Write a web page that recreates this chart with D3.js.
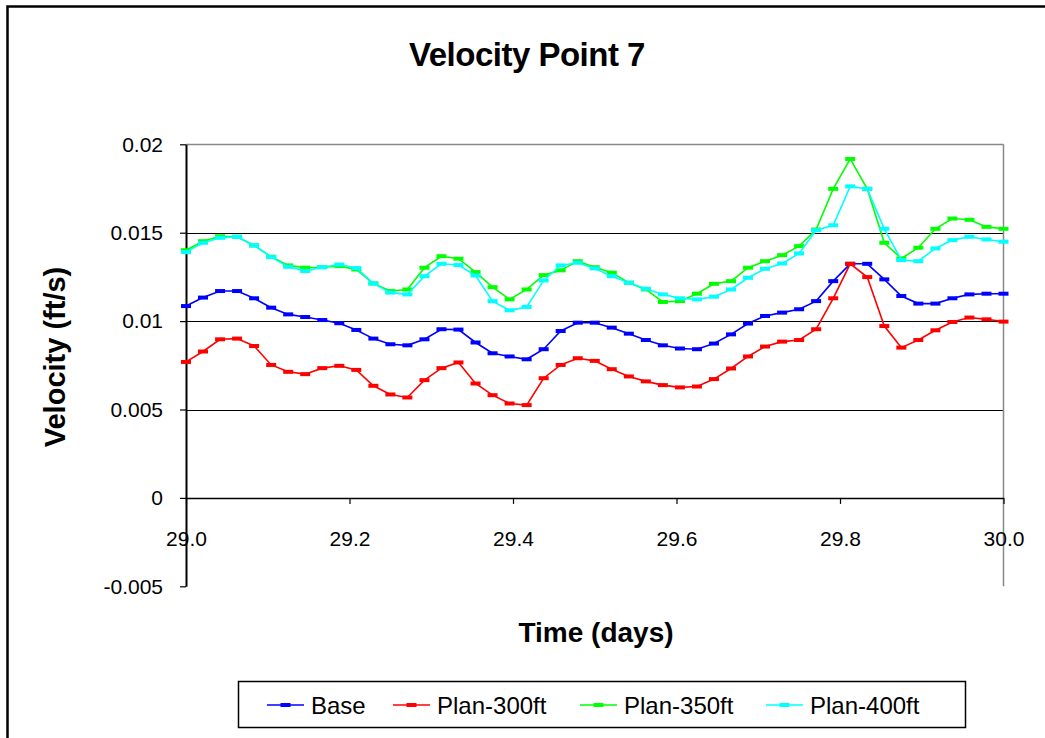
<!DOCTYPE html>
<html><head><meta charset="utf-8">
<script src="https://cdn.jsdelivr.net/npm/d3@7"></script>
<style>body{margin:0;background:#fff}svg{display:block}text{font-family:"Liberation Sans",Arial,sans-serif}</style>
</head><body><svg id="c" width="1045" height="738"></svg>
<script>
const times = [29.0000,29.0208,29.0417,29.0625,29.0833,29.1042,29.1250,29.1458,29.1667,29.1875,
29.2083,29.2292,29.2500,29.2708,29.2917,29.3125,29.3333,29.3542,29.3750,29.3958,
29.4167,29.4375,29.4583,29.4792,29.5000,29.5208,29.5417,29.5625,29.5833,29.6042,
29.6250,29.6458,29.6667,29.6875,29.7083,29.7292,29.7500,29.7708,29.7917,29.8125,
29.8333,29.8542,29.8750,29.8958,29.9167,29.9375,29.9583,29.9792,30.0000];
const base = [0.01085,0.01133,0.0117,0.0117,0.01129,0.01076,0.01038,0.01023,0.01006,0.00988,
0.0095,0.00901,0.00869,0.00863,0.00897,0.00954,0.00952,0.00879,0.00818,0.008,
0.00784,0.00841,0.00944,0.00991,0.00991,0.00963,0.00929,0.00893,0.00863,0.00845,
0.00841,0.00873,0.00925,0.00986,0.01029,0.01048,0.01067,0.01113,0.01226,0.01324,
0.01324,0.01236,0.01142,0.01099,0.01099,0.01129,0.01151,0.01155,0.01155];
const plan300 = [0.00769,0.00828,0.00897,0.00901,0.00859,0.00752,0.00713,0.007,0.00734,0.00747,
0.00724,0.00634,0.00585,0.00568,0.00666,0.00734,0.00766,0.00647,0.00581,0.00534,
0.00525,0.00677,0.00752,0.0079,0.00775,0.00728,0.00687,0.00659,0.00638,0.00625,
0.0063,0.00672,0.00732,0.008,0.00856,0.00884,0.00893,0.00954,0.01129,0.01324,
0.01249,0.00972,0.0085,0.00893,0.00948,0.00995,0.0102,0.0101,0.00997];
const plan350 = [0.01401,0.01452,0.0148,0.01477,0.01428,0.01364,0.01315,0.01302,0.01305,0.01311,
0.01292,0.01213,0.0117,0.01179,0.01302,0.01367,0.01353,0.01277,0.01192,0.01123,
0.01179,0.0126,0.01287,0.01339,0.01305,0.01274,0.01217,0.01179,0.01108,0.01113,
0.01155,0.01211,0.01226,0.01302,0.01339,0.01373,0.01424,0.01518,0.01748,0.01917,
0.01748,0.01443,0.01354,0.01415,0.01522,0.0158,0.01573,0.01533,0.01522];
const plan400 = [0.0139,0.01443,0.01471,0.01477,0.01428,0.01362,0.01307,0.01283,0.01305,0.0132,
0.013,0.01213,0.01161,0.01151,0.01254,0.01324,0.01317,0.01258,0.01113,0.01061,
0.0108,0.0123,0.01315,0.0133,0.01298,0.01254,0.01217,0.01183,0.01151,0.01129,
0.01123,0.01138,0.01179,0.01245,0.01296,0.01326,0.01383,0.01514,0.01542,0.01762,
0.01748,0.01522,0.01345,0.01339,0.01411,0.01458,0.01477,0.01462,0.01449];
const seriesNames = ["Base","Plan-300ft","Plan-350ft","Plan-400ft"];
const seriesColors = ["#0000FF","#FF0000","#00FF00","#00FFFF"];
const seriesValues = [base, plan300, plan350, plan400];
const xTicks = [29.0,29.2,29.4,29.6,29.8,30.0];
const yTicks = [-0.005,0,0.005,0.01,0.015,0.02];
const yTickLabels = ["-0.005","0","0.005","0.01","0.015","0.02"];

const svg = d3.select("#c");
const L=186, R=1003.5, T=144.3, B=586.3;
const x = d3.scaleLinear().domain([29,30]).range([L,R]);
const y = d3.scaleLinear().domain([-0.005,0.02]).range([B,T]);

// outer border
svg.append("rect").attr("x",7.5).attr("y",6.5).attr("width",1100).attr("height",800)
  .attr("fill","none").attr("stroke","#000").attr("stroke-width",2.5);

// gridlines
svg.append("g").selectAll("line").data([0.005,0.01,0.015]).join("line")
  .attr("x1",L).attr("x2",R).attr("y1",d=>Math.round(y(d))+0.5).attr("y2",d=>Math.round(y(d))+0.5)
  .attr("stroke","#000").attr("stroke-width",1.2);
// plot border top/right
svg.append("line").attr("x1",L).attr("x2",R).attr("y1",Math.round(T)+0.5).attr("y2",Math.round(T)+0.5).attr("stroke","#888").attr("stroke-width",1.5);
svg.append("line").attr("x1",R).attr("x2",R).attr("y1",T).attr("y2",B).attr("stroke","#888").attr("stroke-width",1.5);

// y axis
const yAxis = d3.axisLeft(y).tickValues(yTicks).tickSize(6).tickSizeOuter(0)
  .tickFormat((d,i)=>yTickLabels[i]);
const gy = svg.append("g").attr("transform",`translate(${L},0)`).call(yAxis);
gy.select(".domain").attr("stroke","#000").attr("stroke-width",2);
gy.selectAll(".tick line").attr("stroke","#000").attr("stroke-width",1.2);
gy.selectAll(".tick text").attr("font-size",21).attr("fill","#000").attr("x",-23).attr("font-family","Liberation Sans, Arial, sans-serif");

// x axis at y=0
const xAxis = d3.axisBottom(x).tickValues(xTicks).tickSize(6).tickSizeOuter(0).tickFormat(d3.format(".1f"));
const gx = svg.append("g").attr("transform",`translate(0,${y(0)})`).call(xAxis);
gx.select(".domain").attr("stroke","#000").attr("stroke-width",1.5);
gx.selectAll(".tick line").attr("stroke","#000").attr("stroke-width",1.2);
gx.selectAll(".tick text").attr("font-size",21).attr("fill","#000").attr("y",33).attr("font-family","Liberation Sans, Arial, sans-serif");

// series
const line = d3.line().x((d,i)=>x(times[i])).y(d=>y(d));
seriesValues.forEach((vals,k)=>{
  const g = svg.append("g");
  g.append("path").attr("d",line(vals)).attr("fill","none").attr("stroke",seriesColors[k]).attr("stroke-width",1.6);
  g.selectAll("rect").data(vals).join("rect")
    .attr("x",(d,i)=>x(times[i])-5).attr("y",d=>y(d)-2).attr("width",10).attr("height",4)
    .attr("fill",seriesColors[k]);
});

// titles
svg.append("text").attr("x",527).attr("y",66).attr("text-anchor","middle")
  .attr("font-size",33).attr("font-weight","bold").attr("letter-spacing",-0.5).text("Velocity Point 7");
svg.append("text").attr("x",596).attr("y",642).attr("text-anchor","middle")
  .attr("font-size",28).attr("font-weight","bold").text("Time (days)");
svg.append("text").attr("transform","translate(65,357) rotate(-90)").attr("text-anchor","middle")
  .attr("font-size",29).attr("font-weight","bold").text("Velocity (ft/s)");

// legend
svg.append("rect").attr("x",238.5).attr("y",681.5).attr("width",727).attr("height",46)
  .attr("fill","#fff").attr("stroke","#000").attr("stroke-width",1.5);
const legX = [267,393,580,766];
seriesNames.forEach((n,k)=>{
  const g = svg.append("g").attr("transform",`translate(${legX[k]},705)`);
  g.append("line").attr("x1",0).attr("x2",37).attr("stroke",seriesColors[k]).attr("stroke-width",1.6);
  g.append("rect").attr("x",13.5).attr("y",-2).attr("width",10).attr("height",4).attr("fill",seriesColors[k]);
  g.append("text").attr("x",44).attr("y",9).attr("font-size",24).text(n);
});
</script></body></html>
